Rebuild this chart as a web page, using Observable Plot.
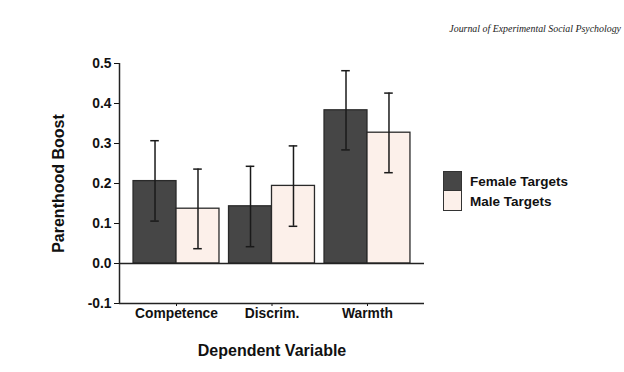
<!DOCTYPE html>
<html>
<head>
<meta charset="utf-8">
<script src="https://cdn.jsdelivr.net/npm/d3@7"></script>
<script src="https://cdn.jsdelivr.net/npm/@observablehq/plot@0.6"></script>
<style>
  body { margin: 0; background: #fff; }
  #wrap { position: relative; width: 624px; height: 372px; overflow: hidden; font-family: "Liberation Sans", Arial, sans-serif; }
  #journal { position: absolute; right: 3px; top: 23px; font-family: "Liberation Serif", "Times New Roman", serif; font-style: italic; font-size: 9.9px; color: #222; }
  #legend { position: absolute; left: 443px; top: 171px; }
  .item { display: flex; align-items: center; height: 20px; }
  .sw { width: 17px; height: 18px; border: 1.2px solid #333; box-sizing: content-box; }
  .lab { margin-left: 8px; font-weight: bold; font-size: 13.5px; color: #111; }
  svg text { font-family: "Liberation Sans", Arial, sans-serif; }
</style>
</head>
<body>
<div id="wrap">
  <div id="journal">Journal of Experimental Social Psychology</div>
  <div id="legend"></div>
</div>
<script>
const categories = ["Competence", "Discrim.", "Warmth"];
const groups = ["Female Targets", "Male Targets"];
const femaleMean = [0.206, 0.143, 0.383];
const femaleLow  = [0.106, 0.042, 0.284];
const femaleHigh = [0.307, 0.243, 0.482];
const maleMean   = [0.137, 0.194, 0.327];
const maleLow    = [0.037, 0.093, 0.227];
const maleHigh   = [0.236, 0.294, 0.426];
const yTicks = [-0.1, 0, 0.1, 0.2, 0.3, 0.4, 0.5];
const colors = ["#464646", "#fcf0ea"];

const data = [];
categories.forEach((c, i) => {
  data.push({cat: i, g: 0, v: femaleMean[i], lo: femaleLow[i], hi: femaleHigh[i]});
  data.push({cat: i, g: 1, v: maleMean[i], lo: maleLow[i], hi: maleHigh[i]});
});
const bw = 0.45;
const left = d => d.cat - bw + d.g * bw;
const mid = d => left(d) + bw / 2;
const cap = 0.045;

const chart = Plot.plot({
  width: 624,
  height: 372,
  marginLeft: 119,
  marginRight: 200,
  marginTop: 63,
  marginBottom: 69,
  style: {fontFamily: "Liberation Sans, Arial, sans-serif", fontWeight: "bold", fontSize: "13.8px", color: "#111", background: "transparent"},
  x: {type: "linear", domain: [-0.597, 2.597], ticks: [0, 1, 2], tickFormat: i => categories[i], tickSize: 3, tickPadding: 2, label: "Dependent Variable", labelArrow: "none", labelAnchor: "center", labelOffset: 52},
  y: {domain: [-0.1, 0.5], ticks: yTicks, tickFormat: d => d.toFixed(1), tickSize: 5, tickPadding: 3, label: "Parenthood Boost", labelArrow: "none", labelAnchor: "center", labelOffset: 67},
  color: {domain: [0, 1], range: colors},
  marks: [
    Plot.rectY(data, {x1: left, x2: d => left(d) + bw, y1: 0, y2: "v", fill: d => d.g, stroke: "#2a2a2a", strokeWidth: 1.3}),
    Plot.ruleY([0], {stroke: "#222", strokeWidth: 1.4}),
    Plot.ruleY([-0.1], {stroke: "#222", strokeWidth: 1.5}),
    Plot.ruleX([-0.597], {stroke: "#222", strokeWidth: 1.5}),
    Plot.ruleX(data, {x: mid, y1: "lo", y2: "hi", stroke: "#1a1a1a", strokeWidth: 1.5}),
    Plot.ruleY(data, {y: "hi", x1: d => mid(d) - cap, x2: d => mid(d) + cap, stroke: "#1a1a1a", strokeWidth: 1.5}),
    Plot.ruleY(data, {y: "lo", x1: d => mid(d) - cap, x2: d => mid(d) + cap, stroke: "#1a1a1a", strokeWidth: 1.5})
  ]
});
chart.style.position = "absolute";
chart.style.left = "0";
chart.style.top = "0";
const wrap = document.getElementById("wrap");
wrap.insertBefore(chart, wrap.firstChild);
d3.select(chart).selectAll("[aria-label='y-axis label'] text, [aria-label='x-axis label'] text").style("font-size", "16px");

const legend = document.getElementById("legend");
groups.forEach((g, i) => {
  const it = document.createElement("div");
  it.className = "item";
  it.innerHTML = `<div class="sw" style="background:${colors[i]};${i ? "border-top:none;height:19px" : ""}"></div><span class="lab">${g}</span>`;
  legend.appendChild(it);
});
</script>
</body>
</html>
